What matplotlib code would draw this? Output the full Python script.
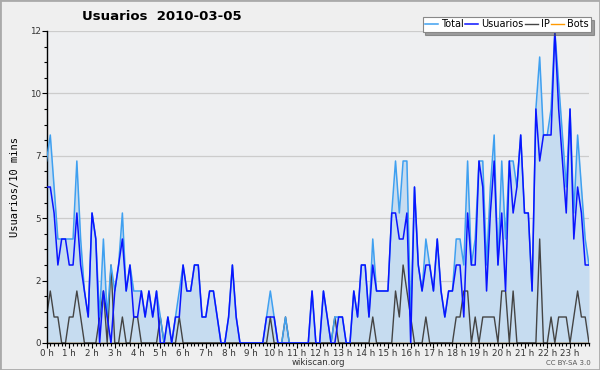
import matplotlib
matplotlib.use("Agg")
import matplotlib.pyplot as plt
from matplotlib.patches import Rectangle
from matplotlib.ticker import FixedLocator, MultipleLocator

# users per 10 minutes, 144 slots over the day
usuarios = [6, 6, 5, 3, 4, 4, 3, 3, 5, 3, 2, 1, 5, 4, 0, 2, 1, 0, 2, 3,
            4, 2, 3, 1, 1, 2, 1, 2, 1, 2, 0, 0, 1, 0, 1, 1, 3, 2, 2, 3,
            3, 1, 1, 2, 2, 1, 0, 0, 1, 3, 1, 0, 0, 0, 0, 0, 0, 0, 1, 1,
            1, 0, 0, 0, 0, 0, 0, 0, 0, 0, 2, 0, 0, 2, 1, 0, 0, 1, 1, 0,
            0, 2, 1, 3, 3, 1, 3, 2, 2, 2, 2, 5, 5, 4, 4, 5, 0, 6, 3, 2,
            3, 3, 2, 4, 2, 1, 2, 2, 3, 3, 1, 5, 3, 3, 7, 6, 2, 5, 7, 3,
            5, 2, 7, 5, 6, 8, 5, 5, 2, 9, 7, 8, 8, 8, 12, 9, 7, 5, 9, 4,
            6, 5, 3, 3]
ip = [1, 2, 1, 1, 0, 0, 1, 1, 2, 1, 0, 0, 0, 0, 1, 2, 0, 3, 0, 0,
      1, 0, 0, 1, 1, 0, 0, 0, 0, 0, 1, 0, 0, 0, 0, 1, 0, 0, 0, 0,
      0, 0, 0, 0, 0, 0, 0, 0, 0, 0, 0, 0, 0, 0, 0, 0, 0, 0, 0, 1,
      0, 0, 0, 1, 0, 0, 0, 0, 0, 0, 0, 0, 0, 0, 0, 0, 1, 0, 0, 0,
      0, 0, 0, 0, 0, 0, 1, 0, 0, 0, 0, 0, 2, 1, 3, 2, 1, 0, 0, 0,
      1, 0, 0, 0, 0, 0, 0, 0, 1, 1, 2, 2, 0, 1, 0, 1, 1, 1, 1, 0,
      2, 2, 0, 2, 0, 0, 0, 0, 0, 0, 4, 0, 0, 1, 0, 1, 1, 1, 0, 1,
      2, 1, 1, 0]
total = [7, 8, 6, 4, 4, 4, 4, 4, 7, 4, 2, 1, 5, 4, 1, 4, 1, 3, 2, 3,
         5, 2, 3, 2, 2, 2, 1, 2, 1, 2, 1, 0, 1, 0, 1, 2, 3, 2, 2, 3,
         3, 1, 1, 2, 2, 1, 0, 0, 1, 3, 1, 0, 0, 0, 0, 0, 0, 0, 1, 2,
         1, 0, 0, 1, 0, 0, 0, 0, 0, 0, 2, 0, 0, 2, 1, 0, 1, 1, 1, 0,
         0, 2, 1, 3, 3, 1, 4, 2, 2, 2, 2, 5, 7, 5, 7, 7, 1, 6, 3, 2,
         4, 3, 2, 4, 2, 1, 2, 2, 4, 4, 3, 7, 3, 4, 7, 7, 3, 6, 8, 3,
         7, 4, 7, 7, 6, 8, 5, 5, 2, 9, 11, 8, 8, 9, 12, 10, 8, 6, 9, 5,
         8, 6, 4, 3]
bots = [0] * 144

hour_labels = [f"{h} h" for h in range(24)]
y_ticks = [0, 2.4, 4.8, 7.2, 9.6, 12]
y_labels = ["0", "2", "5", "7", "10", "12"]

x = list(range(len(total)))

fig = plt.figure(figsize=(6, 3.7), dpi=100, facecolor="#efefef")
ax = fig.add_axes([46.5 / 600, 1 - 343 / 370, (589 - 46.5) / 600, 312 / 370])
ax.set_facecolor("#eeeff1")

ax.fill_between(x, total, color="#c6dcf0", lw=0, zorder=1)
ax.plot(x, total, color="#3fa0f0", lw=1.1, label="Total", zorder=3)
ax.plot(x, usuarios, color="#0a14ff", lw=1.1, label="Usuarios", zorder=4)
ax.plot(x, ip, color="#444444", lw=1.0, label="IP", zorder=2)
ax.plot(x, bots, color="#ff9900", lw=1.0, label="Bots", zorder=1.5)

ax.set_xlim(0, 143)
ax.set_ylim(0, 12)
ax.set_xticks(range(0, 144, 6))
ax.set_xticklabels(hour_labels)
ax.xaxis.set_minor_locator(MultipleLocator(1))
ax.set_yticks(y_ticks)
ax.set_yticklabels(y_labels)
ax.yaxis.set_minor_locator(FixedLocator([i * 0.6 for i in range(21)]))
ax.tick_params(axis="both", which="major", length=3.5, width=0.8, labelsize=6.3,
               labelcolor="#333333", pad=0.5)
ax.tick_params(axis="both", which="minor", length=2.2, width=0.8)
ax.grid(axis="y", color="#cccccc", lw=0.9)
ax.set_axisbelow(True)
for s in ("top", "right"):
    ax.spines[s].set_visible(False)
for s in ("left", "bottom"):
    ax.spines[s].set_linewidth(1.0)

ax.set_ylabel("Usuarios/10 mins", family="DejaVu Sans Mono", fontsize=7.5,
              labelpad=7)

fig.text(0.27, 1 - 17 / 370, "Usuarios  2010-03-05", ha="center",
         va="center", fontsize=9.5, fontweight="bold")
fig.text(318 / 600, 1 - 362.5 / 370, "wikiscan.org", ha="center", va="center",
         fontsize=6.2, color="#333333")
fig.text(591 / 600, 1 - 363 / 370, "CC BY-SA 3.0", ha="right", va="center",
         fontsize=5, color="#555555")

leg = fig.legend(loc="upper right", bbox_to_anchor=(591 / 600, 1 - 17 / 370),
                 ncol=4, fontsize=7, frameon=True, fancybox=False, shadow=True,
                 handlelength=1.3, handletextpad=0.3, columnspacing=0.2,
                 borderpad=0.25, borderaxespad=0)
leg.get_frame().set_edgecolor("#888888")
leg.get_frame().set_linewidth(0.8)

fig.patches.append(Rectangle((0, 0), 1, 1, transform=fig.transFigure,
                             fill=False, edgecolor="#aaaaaa", lw=2))

fig.savefig("out.png", dpi=100, facecolor=fig.get_facecolor())
